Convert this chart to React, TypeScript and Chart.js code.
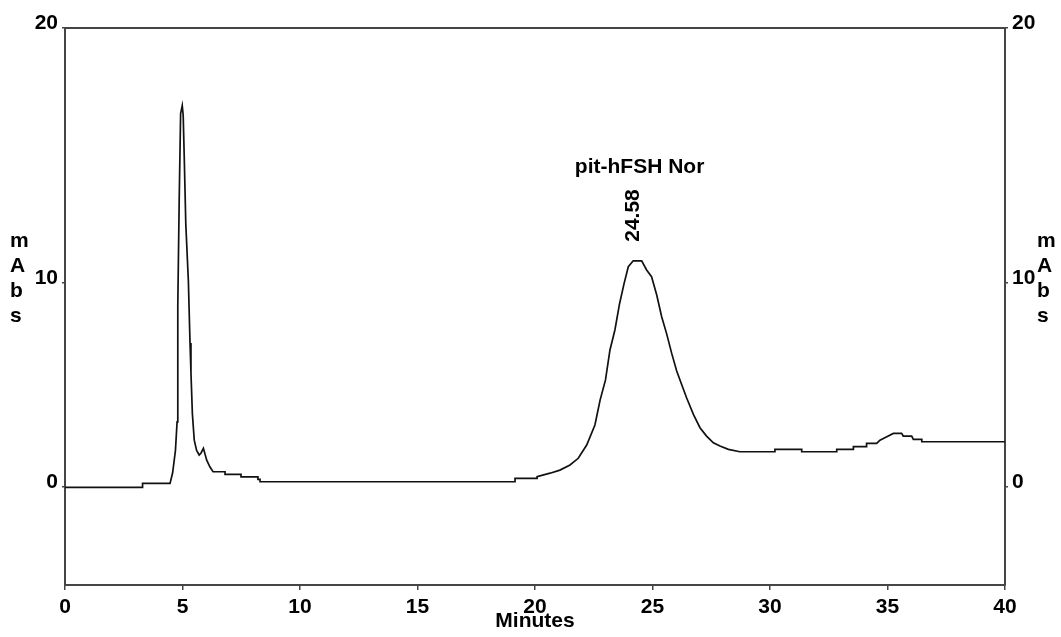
import React, { useEffect, useRef } from 'react';
import { Chart, registerables } from 'chart.js';

Chart.register(...registerables);

// Retention time (minutes)
const TIMES = [
  0, 3.3, 3.3, 4.47, 4.58, 4.7, 4.77, 4.8, 4.86, 4.92, 4.99, 5.03, 5.08, 5.14, 5.25, 5.32, 5.36, 5.42,
  5.5, 5.6, 5.71, 5.79, 5.89, 6.03, 6.17, 6.3, 6.81, 6.81, 7.49, 7.49, 8.21, 8.21, 8.3, 8.3,
  19.15, 19.15, 20.09, 20.09, 20.64, 21.06, 21.49, 21.84, 22.2, 22.55, 22.77, 23.0, 23.19, 23.4,
  23.6, 23.79, 23.97, 24.18, 24.54, 24.75, 24.96, 25.18, 25.39, 25.6, 25.82, 26.03, 26.24, 26.45,
  26.74, 27.02, 27.3, 27.59, 27.87, 28.23, 28.72, 30.21, 30.21, 31.35, 31.35, 32.84, 32.84, 33.55,
  33.55, 34.11, 34.11, 34.54, 34.68, 34.97, 35.25, 35.6, 35.67, 36.03, 36.1, 36.46, 36.46, 40,
];

// Absorbance (mAbs)
const ABSORBANCE = [
  -0.02, -0.02, 0.18, 0.18, 0.7, 1.8, 3.2, 8.9, 14.1, 18.3, 18.7, 18.2, 15.9, 12.9, 10.1, 7.06, 5.6, 3.6,
  2.3, 1.8, 1.57, 1.67, 1.9, 1.32, 0.98, 0.75, 0.75, 0.62, 0.62, 0.5, 0.5, 0.38, 0.38, 0.26,
  0.26, 0.43, 0.43, 0.51, 0.68, 0.83, 1.08, 1.41, 2.06, 3.04, 4.26, 5.25, 6.72, 7.7,
  9.0, 9.97, 10.8, 11.09, 11.09, 10.64, 10.31, 9.41, 8.35, 7.52, 6.54, 5.69, 5.03, 4.38,
  3.56, 2.91, 2.5, 2.17, 2.01, 1.85, 1.73, 1.73, 1.85, 1.85, 1.73, 1.73, 1.85, 1.85,
  1.98, 1.98, 2.14, 2.14, 2.3, 2.47, 2.63, 2.63, 2.5, 2.5, 2.34, 2.34, 2.22, 2.22,
];

const X_MIN = 0;
const X_MAX = 40;
const X_STEP = 5;
const Y_MIN = -4.8;
const Y_MAX = 22.5;
const Y_TICK_VALUES = [0, 10, 22.5];
const Y_TICK_LABELS = ['0', '10', '20'];

const X_TITLE = 'Minutes';
const Y_TITLE_LETTERS = ['m', 'A', 'b', 's'];

const PEAK_NAME = 'pit-hFSH Nor';
const PEAK_RT_LABEL = '24.58';
const PEAK_LABEL_X = 24.2;
const PEAK_NAME_X = 24.45;
const PEAK_APEX = 11.09;

const FONT_FAMILY = '"Liberation Sans", Arial, sans-serif';
const FONT_SIZE = 21;
const FONT_WEIGHT = 'bold';
const AXIS_COLOR = '#454545';

const annotationPlugin = {
  id: 'peakAnnotations',
  afterDraw(chart: any) {
    const { ctx, scales } = chart;
    const x = scales.x;
    const y = scales.y;
    const y2 = scales.y2;
    ctx.save();
    ctx.fillStyle = '#000';
    ctx.font = `${FONT_WEIGHT} ${FONT_SIZE}px ${FONT_FAMILY}`;
    const apex = y.getPixelForValue(PEAK_APEX);

    ctx.save();
    ctx.translate(x.getPixelForValue(PEAK_LABEL_X), apex - 19);
    ctx.rotate(-Math.PI / 2);
    ctx.textAlign = 'left';
    ctx.textBaseline = 'middle';
    ctx.fillText(PEAK_RT_LABEL, 0, 0);
    ctx.restore();

    ctx.textAlign = 'center';
    ctx.textBaseline = 'middle';
    ctx.fillText(PEAK_NAME, x.getPixelForValue(PEAK_NAME_X), apex - 94);

    // stacked vertical axis titles
    ctx.textAlign = 'left';
    ctx.textBaseline = 'alphabetic';
    const mid = y.getPixelForValue(10);
    Y_TITLE_LETTERS.forEach((ch, i) => {
      const by = mid - 36 + i * 25;
      ctx.fillText(ch, y.left + 10, by);
      ctx.fillText(ch, y2.left + 32, by);
    });
    ctx.restore();
  },
};

export default function App() {
  const canvasRef = useRef<HTMLCanvasElement | null>(null);

  useEffect(() => {
    if (!canvasRef.current) return;
    const font = { family: FONT_FAMILY, size: FONT_SIZE, weight: FONT_WEIGHT as any };
    const points = TIMES.map((t, i) => ({ x: t, y: ABSORBANCE[i] }));

    const yAxisCommon = {
      type: 'linear' as const,
      min: Y_MIN,
      max: Y_MAX,
      afterBuildTicks: (scale: any) => {
        scale.ticks = Y_TICK_VALUES.map((v) => ({ value: v }));
      },
      ticks: {
        font,
        color: '#000',
        padding: 4,
        labelOffset: -5,
        callback: (_v: any, index: number) => Y_TICK_LABELS[index],
      },
      grid: {
        display: true,
        drawOnChartArea: false,
        drawTicks: true,
        tickLength: 3,
        color: AXIS_COLOR,
        lineWidth: 1.5,
      },
      border: { display: true, color: AXIS_COLOR, width: 2 },
    };

    const chart = new Chart(canvasRef.current, {
      type: 'line',
      data: {
        datasets: [
          {
            data: points,
            borderColor: '#111',
            borderWidth: 1.7,
            pointRadius: 0,
            tension: 0,
            fill: false,
          },
        ],
      },
      options: {
        animation: false,
        responsive: true,
        maintainAspectRatio: false,
        layout: { padding: 0 },
        plugins: {
          legend: { display: false },
          tooltip: { enabled: false },
          title: { display: false },
        },
        scales: {
          x: {
            type: 'linear',
            position: 'bottom',
            min: X_MIN,
            max: X_MAX,
            afterFit: (scale: any) => {
              scale.height = 52;
            },
            ticks: {
              stepSize: X_STEP,
              font,
              color: '#000',
              padding: 5,
              maxRotation: 0,
              autoSkip: false,
            },
            grid: {
              display: true,
              drawOnChartArea: false,
              drawTicks: true,
              tickLength: 5,
              color: AXIS_COLOR,
              lineWidth: 1.5,
            },
            border: { display: true, color: AXIS_COLOR, width: 2 },
            title: {
              display: true,
              text: X_TITLE,
              font,
              color: '#000',
              padding: { top: 0, bottom: 3 },
            },
          },
          x2: {
            type: 'linear',
            position: 'top',
            min: X_MIN,
            max: X_MAX,
            afterFit: (scale: any) => {
              scale.height = 28;
            },
            ticks: { display: false },
            grid: { display: false, drawTicks: false },
            border: { display: true, color: AXIS_COLOR, width: 2 },
          },
          y: {
            ...yAxisCommon,
            position: 'left',
            afterFit: (scale: any) => {
              scale.width = 65;
            },
          },
          y2: {
            ...yAxisCommon,
            position: 'right',
            afterFit: (scale: any) => {
              scale.width = 56;
            },
          },
        },
      },
      plugins: [annotationPlugin],
    });

    return () => {
      chart.destroy();
    };
  }, []);

  return (
    <div style={{ position: 'absolute', left: 0, top: 0, width: 1061, height: 637, background: '#fff' }}>
      <canvas ref={canvasRef} />
    </div>
  );
}
